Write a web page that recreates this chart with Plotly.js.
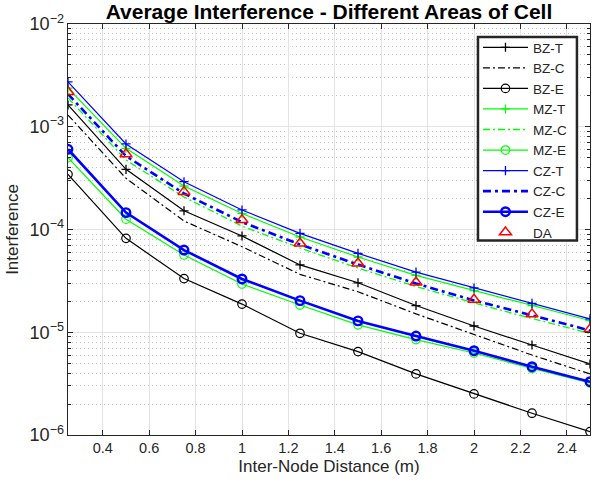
<!DOCTYPE html>
<html>
<head>
<meta charset="utf-8">
<script src="https://cdn.plot.ly/plotly-3.0.1.min.js"></script>
<style>html,body{margin:0;padding:0;background:#fff;}#chart{width:593px;height:488px;}</style>
</head>
<body>
<div id="chart"></div>
<script>
var distance = [0.25, 0.5, 0.75, 1.0, 1.25, 1.5, 1.75, 2.0, 2.25, 2.5];

var bzT = [1.63e-3, 3.85e-4, 1.52e-4, 8.65e-5, 4.52e-5, 3.03e-5, 1.82e-5, 1.15e-5, 7.52e-6, 4.91e-6];
var bzC = [1.30e-3, 3.15e-4, 1.21e-4, 6.80e-5, 3.66e-5, 2.48e-5, 1.51e-5, 9.60e-6, 6.00e-6, 3.93e-6];
var bzE = [3.44e-4, 8.20e-5, 3.33e-5, 1.88e-5, 9.77e-6, 6.48e-6, 3.93e-6, 2.51e-6, 1.63e-6, 1.08e-6];

var mzT = [2.38e-3, 6.17e-4, 2.65e-4, 1.43e-4, 8.45e-5, 5.40e-5, 3.58e-5, 2.54e-5, 1.82e-5, 1.30e-5];
var mzC = [1.91e-3, 4.74e-4, 2.07e-4, 1.08e-4, 6.61e-5, 4.22e-5, 2.79e-5, 1.93e-5, 1.36e-5, 9.73e-6];
var mzE = [5.00e-4, 1.26e-4, 5.65e-5, 2.95e-5, 1.84e-5, 1.18e-5, 8.49e-6, 6.28e-6, 4.44e-6, 3.21e-6];

var czT = [2.73e-3, 6.80e-4, 2.92e-4, 1.55e-4, 9.18e-5, 5.86e-5, 3.85e-5, 2.70e-5, 1.91e-5, 1.35e-5];
var czC = [2.08e-3, 5.19e-4, 2.24e-4, 1.18e-4, 7.15e-5, 4.56e-5, 2.98e-5, 2.04e-5, 1.46e-5, 1.04e-5];
var czE = [6.04e-4, 1.46e-4, 6.31e-5, 3.30e-5, 2.03e-5, 1.29e-5, 9.18e-6, 6.61e-6, 4.62e-6, 3.30e-6];

var daVals = [2.19e-3, 5.43e-4, 2.33e-4, 1.24e-4, 7.34e-5, 4.69e-5, 3.06e-5, 2.08e-5, 1.50e-5, 1.07e-5];

var seriesNames = ['BZ-T','BZ-C','BZ-E','MZ-T','MZ-C','MZ-E','CZ-T','CZ-C','CZ-E','DA'];

var BLACK = '#000000', GREEN = '#00ff00', BLUE = '#0000ff', RED = '#ff0000';
var thinDD = '7px,3px,2px,3px';
var thickDD = '8px,4px,3px,4px';

function tr(name, y, color, width, dash, symbol, msize, mwidth) {
  var t = {
    x: distance, y: y, name: name, type: 'scatter', mode: symbol ? 'lines+markers' : 'lines',
    line: {color: color, width: width, dash: dash || 'solid'}
  };
  if (symbol) {
    t.marker = {symbol: symbol, size: msize, color: color, line: {color: color, width: mwidth}};
  }
  return t;
}

var data = [
  tr(seriesNames[0], bzT, BLACK, 1.2, 'solid', 'cross-thin-open', 6.5, 1.3),
  tr(seriesNames[1], bzC, BLACK, 1.2, thinDD),
  tr(seriesNames[2], bzE, BLACK, 1.2, 'solid', 'circle-open', 8.5, 1.2),
  tr(seriesNames[3], mzT, GREEN, 1.2, 'solid', 'cross-thin-open', 6.5, 1.3),
  tr(seriesNames[4], mzC, GREEN, 1.3, thinDD),
  tr(seriesNames[5], mzE, GREEN, 1.2, 'solid', 'circle-open', 8.5, 1.2),
  tr(seriesNames[6], czT, BLUE, 1.2, 'solid', 'cross-thin-open', 6.5, 1.3),
  tr(seriesNames[7], czC, BLUE, 2.6, thickDD),
  tr(seriesNames[8], czE, BLUE, 2.6, 'solid', 'circle-open', 8.5, 2.4),
  {x: distance, y: daVals, name: seriesNames[9], type: 'scatter', mode: 'markers',
   marker: {symbol: 'triangle-up-open', size: 10.5, color: RED, line: {color: RED, width: 1.5}}}
];

var FONT = 'Liberation Sans, Arial, Helvetica, sans-serif';
var AX = '#262626';

var layout = {
  width: 593, height: 488,
  margin: {l: 68, r: 3, t: 24, b: 53},
  paper_bgcolor: '#ffffff', plot_bgcolor: '#ffffff',
  font: {family: FONT, size: 14, color: AX},
  title: {text: '<b>Average Interference - Different Areas of Cell</b>', font: {family: FONT, size: 21, color: '#000'},
          x: 0.5, xref: 'paper', y: 0.976, yref: 'container', yanchor: 'middle'},
  showlegend: true,
  legend: {x: 0.7854, y: 0.9805, xanchor: 'left', yanchor: 'top', bgcolor: 'rgba(0,0,0,0)',
           borderwidth: 0, font: {family: FONT, size: 13.5, color: AX},
           itemwidth: 45, tracegroupgap: 0},
  shapes: [
    {type: 'rect', xref: 'paper', yref: 'paper', x0: 0.7854, x1: 0.975, y0: 0.4732, y1: 0.9684,
     fillcolor: '#ffffff', line: {color: AX, width: 2.5}, layer: 'above'}
  ],
  xaxis: {
    range: [0.25, 2.5], tick0: 0.4, dtick: 0.2, ticks: 'inside', ticklen: 5, tickcolor: AX,
    showline: true, linecolor: AX, linewidth: 1, mirror: 'ticks',
    showgrid: true, gridcolor: '#e3e3e3', gridwidth: 1, zeroline: false,
    tickfont: {family: FONT, size: 14.5, color: AX},
    title: {text: 'Inter-Node Distance (m)', font: {family: FONT, size: 17, color: AX}, standoff: 4}
  },
  yaxis: {
    type: 'log', range: [-6, -2], dtick: 1, exponentformat: 'power', showexponent: 'all',
    ticks: 'inside', ticklen: 5, tickcolor: AX,
    showline: true, linecolor: AX, linewidth: 1, mirror: 'ticks',
    showgrid: true, gridcolor: '#e3e3e3', gridwidth: 1, zeroline: false,
    tickfont: {family: FONT, size: 14.5, color: AX},
    minor: {dtick: 'D1', ticks: 'inside', ticklen: 3, tickcolor: AX, showgrid: true, gridcolor: '#c4c4c4', griddash: '1px,3px', gridwidth: 1},
    title: {text: 'Interference', font: {family: FONT, size: 17, color: AX}, standoff: 6}
  }
};

Plotly.newPlot('chart', data, layout, {displayModeBar: false, staticPlot: true});
</script>
</body>
</html>
